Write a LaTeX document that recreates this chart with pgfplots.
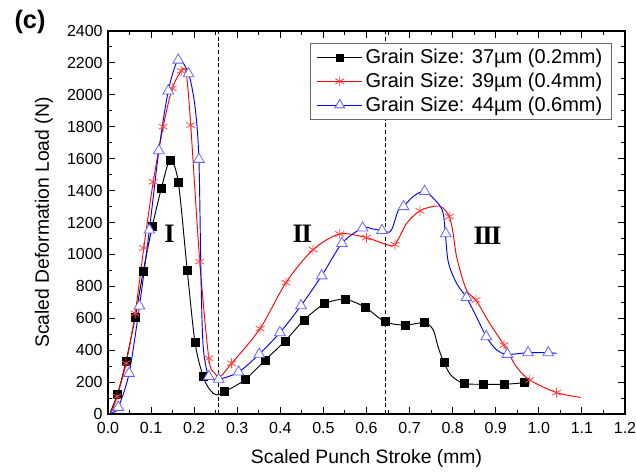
\documentclass[border=0pt]{standalone}
\usepackage{pgfplots}
\pgfplotsset{compat=1.18}
\usepackage{fontspec}
\setmainfont{Liberation Sans}
\newfontfamily\romfont{Liberation Serif}
\definecolor{tblue}{RGB}{100,100,255}
\definecolor{sred}{RGB}{255,70,70}
\begin{document}
\begin{tikzpicture}
\useasboundingbox (-81pt,-44.25pt) rectangle (396pt,310.5pt);
\begin{axis}[
  at={(0pt,0pt)}, anchor=south west,
  scale only axis, width=387.75pt, height=287.25pt,
  xmin=0, xmax=1.2, ymin=0, ymax=2400,
  xtick={0,0.1,0.2,0.3,0.4,0.5,0.6,0.7,0.8,0.9,1.0,1.1,1.2},
  xticklabels={0.0,0.1,0.2,0.3,0.4,0.5,0.6,0.7,0.8,0.9,1.0,1.1,1.2},
  ytick={0,200,400,600,800,1000,1200,1400,1600,1800,2000,2200,2400},
  yticklabels={0,200,400,600,800,1000,1200,1400,1600,1800,2000,2200,2400},
  minor x tick num=1, minor y tick num=1,
  tick align=inside, major tick length=5pt, minor tick length=2.8pt,
  tick style={black, line width=0.7pt},
  axis line style={line width=0.9pt},
  ticklabel style={font=\fontsize{12}{14}\selectfont},
  xticklabel style={yshift=-2.5pt},
  yticklabel style={xshift=-0.5pt},
  xlabel={Scaled Punch Stroke (mm)},
  ylabel={Scaled Deformation Load (N)},
  label style={font=\fontsize{14.5}{16}\selectfont},
  xlabel style={at={(axis description cs:0.5,-0.115)}, anchor=center},
  ylabel style={at={(axis description cs:-0.124,0.5)}, anchor=center},
  legend style={at={(axis description cs:0.975,0.969)}, anchor=north east,
    font=\fontsize{15}{16}\selectfont, draw=black!60, line width=0.6pt,
    row sep=1.5pt, inner xsep=5pt, inner ysep=2.5pt},
  legend cell align=left,
  legend image code/.code={\draw[mark repeat=2,mark phase=2] plot coordinates {(0pt,0pt)(17pt,0pt)(34pt,0pt)};},
]
% reference lines
\addplot[forget plot, black, dashed, line width=0.8pt, dash pattern=on 3pt off 2pt] coordinates {(0.2575,0)(0.2575,2400)};
\addplot[forget plot, black, dashed, line width=0.8pt, dash pattern=on 3pt off 2pt] coordinates {(0.645,0)(0.645,2400)};

% black curve
\addplot[forget plot, black, line width=0.7pt, smooth] coordinates {
(0.005,10)(0.022,125)(0.042,332)(0.063,606)(0.082,896)(0.103,1178)(0.124,1414)(0.144,1591)(0.163,1455)(0.184,898)(0.202,447)(0.221,234)(0.237,150)(0.252,119)(0.271,140)(0.318,215)(0.364,336)(0.411,457)(0.455,589)(0.503,691)(0.55,718)(0.596,670)(0.643,578)(0.689,557)(0.735,572)(0.755,526)(0.766,422)(0.78,321)(0.797,240)(0.826,192)(0.872,186)(0.919,186)(0.967,196)};
\addplot[forget plot, only marks, mark=square*, mark size=3pt, black] coordinates {
(0.022,125)(0.042,332)(0.063,606)(0.082,896)(0.103,1178)(0.124,1414)(0.144,1591)(0.163,1455)(0.184,898)(0.202,447)(0.221,234)(0.271,140)(0.318,215)(0.364,336)(0.411,457)(0.455,589)(0.503,691)(0.55,718)(0.596,670)(0.643,578)(0.689,557)(0.735,572)(0.78,321)(0.826,192)(0.872,186)(0.919,186)(0.967,196)};

% red curve
\addplot[forget plot, red, line width=0.7pt, smooth] coordinates {
(0.008,10)(0.021,110)(0.042,318)(0.063,630)(0.083,1040)(0.105,1455)(0.128,1800)(0.149,2040)(0.170,2150)(0.177,2165)(0.183,2110)(0.192,1810)(0.213,955)(0.234,349)(0.247,258)(0.26,234)(0.287,317)(0.353,535)(0.413,823)(0.476,1030)(0.538,1128)(0.6,1105)(0.643,1065)(0.666,1062)(0.693,1194)(0.724,1273)(0.759,1303)(0.776,1295)(0.792,1237)(0.8,1150)(0.81,975)(0.832,777)(0.854,714)(0.886,568)(0.919,432)(0.948,296)(0.979,213)(1.041,134)(1.097,104)};
\addplot[forget plot, only marks, mark=asterisk, mark size=3.8pt, sred, line width=0.6pt] coordinates {
(0.021,110)(0.042,318)(0.063,630)(0.083,1040)(0.105,1455)(0.128,1800)(0.149,2040)(0.170,2150)(0.192,1810)(0.213,955)(0.234,349)(0.287,317)(0.353,535)(0.413,823)(0.476,1030)(0.538,1128)(0.6,1105)(0.666,1062)(0.724,1273)(0.792,1237)(0.854,714)(0.919,432)(0.979,213)(1.041,134)};

% blue curve
\addplot[forget plot, blue, line width=0.7pt, smooth] coordinates {
(0.005,5)(0.012,10)(0.024,42)(0.049,255)(0.073,677)(0.096,1153)(0.118,1650)(0.14,2025)(0.163,2218)(0.187,2132)(0.202,1925)(0.211,1596)(0.216,840)(0.221,421)(0.234,235)(0.257,218)(0.303,263)(0.351,375)(0.399,510)(0.448,679)(0.496,866)(0.543,1069)(0.591,1166)(0.613,1160)(0.636,1150)(0.654,1140)(0.662,1180)(0.674,1278)(0.686,1300)(0.708,1362)(0.735,1395)(0.766,1320)(0.778,1257)(0.783,1130)(0.79,950)(0.809,819)(0.832,730)(0.855,610)(0.878,485)(0.902,401)(0.927,374)(0.975,384)(1.022,384)(1.041,380)};
\addplot[forget plot, only marks, mark=triangle*, mark size=4.6pt, draw=tblue, fill=white, line width=0.6pt] coordinates {
(0.024,42)(0.049,255)(0.073,677)(0.096,1153)(0.118,1650)(0.14,2025)(0.163,2218)(0.187,2132)(0.211,1596)(0.234,235)(0.257,218)(0.303,263)(0.351,375)(0.399,510)(0.448,679)(0.496,866)(0.543,1069)(0.591,1166)(0.636,1150)(0.686,1300)(0.735,1395)(0.784,1130)(0.832,730)(0.878,485)(0.927,374)(0.975,384)(1.022,384)};

\addlegendimage{black, line width=0.7pt, mark=square*, mark size=2.6pt}
\addlegendentry{Grain Size: 37\textmu m (0.2mm)}
\addlegendimage{red, line width=0.7pt, mark=asterisk, mark size=3.8pt, mark options={sred}}
\addlegendentry{Grain Size: 39\textmu m (0.4mm)}
\addlegendimage{blue, line width=0.7pt, mark=triangle*, mark size=4.2pt, mark options={draw=tblue, fill=white}}
\addlegendentry{Grain Size: 44\textmu m (0.6mm)}

\node[font=\romfont\bfseries\fontsize{20}{21}\selectfont] at (axis cs:0.143,1130) {I};
\node[font=\romfont\bfseries\fontsize{20}{21}\selectfont] at (axis cs:0.451,1130) {I\kern-1.2pt I};
\node[font=\romfont\bfseries\fontsize{20}{21}\selectfont] at (axis cs:0.881,1115) {I\kern-1.2pt I\kern-1.2pt I};
\end{axis}
\node[font=\bfseries\fontsize{19}{21}\selectfont] at (-58.5pt,294pt) {(c)};
\end{tikzpicture}
\end{document}
